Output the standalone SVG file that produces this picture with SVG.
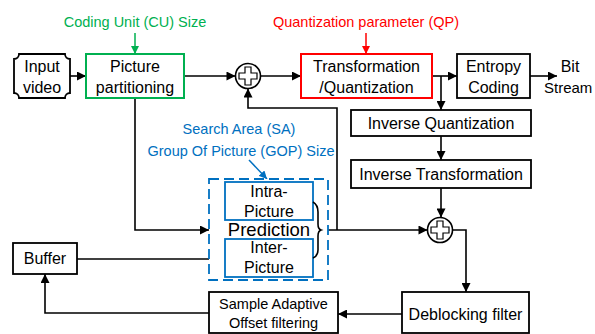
<svg xmlns="http://www.w3.org/2000/svg" width="595" height="334" viewBox="0 0 595 334">
<style>
text{font-family:"Liberation Sans",Arial,sans-serif;text-anchor:middle;fill:#000}
.bx{font-size:16px}
.lb{font-size:14.5px}
.box{fill:#fff;stroke:#000;stroke-width:1.8}
.ln{fill:none;stroke:#000;stroke-width:1.6}
.sum{fill:#fff;stroke:#000;stroke-width:1.6}
.plus{fill:#fff;stroke:#000;stroke-width:1.2}
</style>
<defs>
<marker id="ah" viewBox="0 0 10 10" refX="10" refY="5" markerWidth="10" markerHeight="9" markerUnits="userSpaceOnUse" orient="auto"><path d="M0,0 L10,5 L0,10 z" fill="#000"/></marker>
<marker id="ahg" viewBox="0 0 10 10" refX="10" refY="5" markerWidth="8" markerHeight="8" markerUnits="userSpaceOnUse" orient="auto"><path d="M0,0 L10,5 L0,10 z" fill="#00b050"/></marker>
<marker id="ahr" viewBox="0 0 10 10" refX="10" refY="5" markerWidth="8" markerHeight="8" markerUnits="userSpaceOnUse" orient="auto"><path d="M0,0 L10,5 L0,10 z" fill="#ff0000"/></marker>
<marker id="ahb" viewBox="0 0 10 10" refX="10" refY="5" markerWidth="8" markerHeight="8" markerUnits="userSpaceOnUse" orient="auto"><path d="M0,0 L10,5 L0,10 z" fill="#0070c0"/></marker>
</defs>

<g id="connectors">
<path class="ln" d="M70,76 H86" marker-end="url(#ah)"/>
<path class="ln" d="M184,76 H235.5" marker-end="url(#ah)"/>
<path class="ln" d="M260.5,76 H301" marker-end="url(#ah)"/>
<path class="ln" d="M432,76 H457" marker-end="url(#ah)"/>
<path class="ln" d="M441,76 V110" marker-end="url(#ah)"/>
<path class="ln" d="M530,76 H557" marker-end="url(#ah)"/>
<path class="ln" d="M441,136 V160" marker-end="url(#ah)"/>
<path class="ln" d="M441,188 V217.5" marker-end="url(#ah)"/>
<path class="ln" d="M318,230 H427.5" marker-end="url(#ah)"/>
<path class="ln" d="M337,230 V108 H248 V88.5" marker-end="url(#ah)"/>
<path class="ln" d="M452.5,230 H466 V292" marker-end="url(#ah)"/>
<path class="ln" d="M402,314 H338" marker-end="url(#ah)"/>
<path class="ln" d="M209,313 H45 V274" marker-end="url(#ah)"/>
<path class="ln" d="M77,259 H225" marker-end="url(#ah)"/>
<path class="ln" d="M135,98 V230 H209" marker-end="url(#ah)"/>
<path fill="none" stroke="#00b050" stroke-width="1.5" d="M135,33 V54" marker-end="url(#ahg)"/>
<path fill="none" stroke="#ff0000" stroke-width="1.5" d="M366,33 V54" marker-end="url(#ahr)"/>
<path fill="none" stroke="#0070c0" stroke-width="1.5" d="M249,160 L267,179" marker-end="url(#ahb)"/>
</g>

<g id="input-video">
<path class="box" d="M19,54 H65 A5,5 0 0 0 70,59 V93 A5,5 0 0 0 65,98 H19 A5,5 0 0 0 14,93 V59 A5,5 0 0 0 19,54 Z"/>
<text class="bx" x="42" y="72">Input</text>
<text class="bx" x="42" y="93">video</text>
</g>

<g id="cu-label"><text class="lb" x="135" y="27" style="fill:#00b050">Coding Unit (CU) Size</text></g>

<g id="picture-partitioning">
<rect x="86" y="54" width="98" height="44" fill="#fff" stroke="#00b050" stroke-width="2"/>
<text class="bx" x="135" y="72">Picture</text>
<text class="bx" x="135" y="93">partitioning</text>
</g>

<g id="sum1">
<circle class="sum" cx="248" cy="76" r="12.5"/>
<path class="plus" d="M245,67 h6 v6 h6 v6 h-6 v6 h-6 v-6 h-6 v-6 h6 z"/>
</g>

<g id="qp-label"><text class="lb" x="366" y="27" style="fill:#ff0000">Quantization parameter (QP)</text></g>

<g id="transform-quant">
<rect x="301" y="54" width="131" height="44" fill="#fff" stroke="#ff0000" stroke-width="2"/>
<text class="bx" x="366.5" y="72">Transformation</text>
<text class="bx" x="366.5" y="93">/Quantization</text>
</g>

<g id="entropy">
<rect class="box" x="457" y="54" width="73" height="44"/>
<text class="bx" x="493.5" y="72">Entropy</text>
<text class="bx" x="493.5" y="93">Coding</text>
</g>

<g id="bitstream">
<text class="bx" x="570" y="72">Bit</text>
<text x="544" y="93" style="text-anchor:start;font-size:15px">Stream</text>
</g>

<g id="inverse-quant">
<rect class="box" x="351" y="110" width="180" height="26"/>
<text class="bx" x="441" y="129">Inverse Quantization</text>
</g>

<g id="inverse-transform">
<rect class="box" x="351" y="160" width="180" height="28"/>
<text class="bx" x="441" y="180">Inverse Transformation</text>
</g>

<g id="sa-gop-label">
<text class="lb" x="239" y="134" style="fill:#0070c0">Search Area (SA)</text>
<text class="lb" x="241" y="156" style="fill:#0070c0">Group Of Picture (GOP) Size</text>
</g>

<g id="prediction">
<rect x="209" y="179" width="119" height="101" fill="#fff" stroke="#0070c0" stroke-width="1.8" stroke-dasharray="10,5"/>
<rect x="225" y="182" width="88" height="38" fill="#fff" stroke="#0070c0" stroke-width="1.8"/>
<text class="bx" x="269" y="197">Intra-</text>
<text class="bx" x="269" y="217">Picture</text>
<rect x="225" y="239" width="88" height="38" fill="#fff" stroke="#0070c0" stroke-width="1.8"/>
<text class="bx" x="269" y="253">Inter-</text>
<text class="bx" x="269" y="273">Picture</text>
<text x="269" y="236" style="font-size:18.5px">Prediction</text>
<path class="ln" d="M313,202 Q318,205 318,212 V224 Q318,229 321,230 Q318,231 318,236 V250 Q318,256 313,258"/>
</g>

<g id="sum2">
<circle class="sum" cx="440" cy="230" r="12.5"/>
<path class="plus" d="M437,221 h6 v6 h6 v6 h-6 v6 h-6 v-6 h-6 v-6 h6 z"/>
</g>

<g id="buffer">
<rect class="box" x="13" y="243" width="64" height="31"/>
<text class="bx" x="45" y="264">Buffer</text>
</g>

<g id="sao">
<rect class="box" x="209" y="292" width="129" height="41"/>
<text class="lb" x="273.5" y="309">Sample Adaptive</text>
<text class="lb" x="273.5" y="328">Offset filtering</text>
</g>

<g id="deblocking">
<rect class="box" x="402" y="292" width="127" height="41"/>
<text class="bx" x="465.5" y="320">Deblocking filter</text>
</g>
</svg>
